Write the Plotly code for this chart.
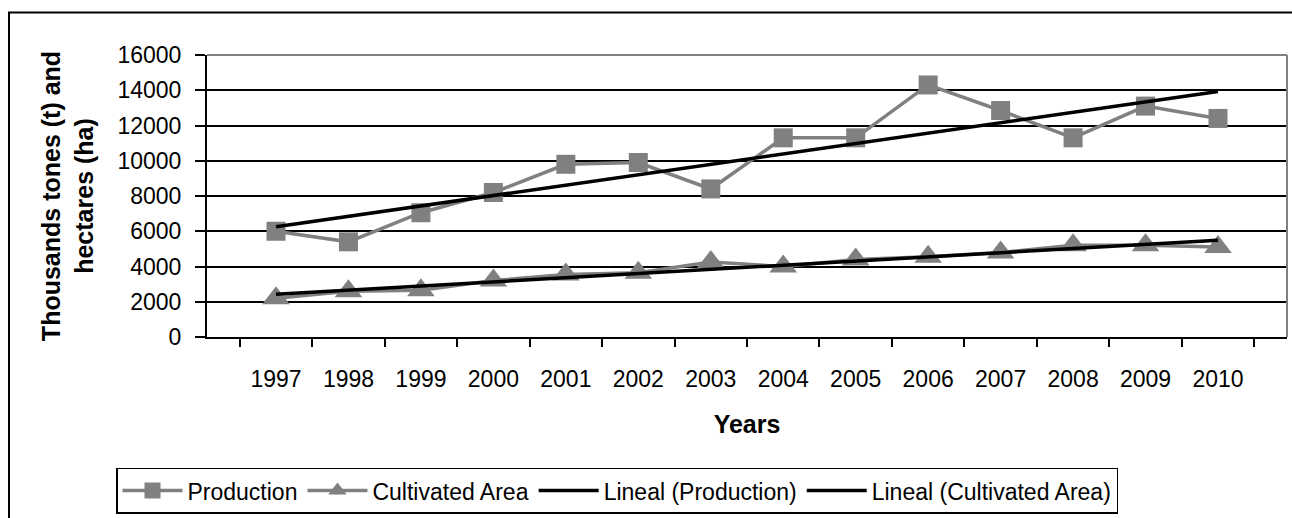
import numpy as np
import plotly.graph_objects as go

years = ["1997", "1998", "1999", "2000", "2001", "2002", "2003",
         "2004", "2005", "2006", "2007", "2008", "2009", "2010"]
production = [6000, 5400, 7050, 8200, 9800, 9900, 8400,
              11300, 11300, 14300, 12850, 11300, 13100, 12400]
cultivated_area = [2200, 2600, 2650, 3200, 3550, 3650, 4250,
                   4000, 4400, 4550, 4800, 5200, 5200, 5100]
y_ticks = [0, 2000, 4000, 6000, 8000, 10000, 12000, 14000, 16000]

# Linear trend lines (least squares on the series)
xi = np.arange(1, len(years) + 1)
p_fit = np.polyval(np.polyfit(xi, production, 1), xi)
a_fit = np.polyval(np.polyfit(xi, cultivated_area, 1), xi)

FONT = "Arial, Liberation Sans, sans-serif"
GRAY = "#808080"

fig = go.Figure()
fig.add_trace(go.Scatter(x=years, y=production, name="Production",
                         mode="lines+markers",
                         line=dict(color=GRAY, width=3.5),
                         marker=dict(symbol="square", size=19, color=GRAY)))
fig.add_trace(go.Scatter(x=years, y=cultivated_area, name="Cultivated Area",
                         mode="lines+markers",
                         line=dict(color=GRAY, width=3.5),
                         marker=dict(symbol="triangle-up", size=24, color=GRAY)))
fig.add_trace(go.Scatter(x=years, y=p_fit, name="Lineal (Production)",
                         mode="lines", line=dict(color="black", width=3.5)))
fig.add_trace(go.Scatter(x=years, y=a_fit, name="Lineal (Cultivated Area)",
                         mode="lines", line=dict(color="black", width=3.5)))

fig.update_layout(
    width=1292, height=518,
    margin=dict(l=207, r=5, t=55, b=178),
    paper_bgcolor="white", plot_bgcolor="white",
    font=dict(family=FONT, size=23, color="black"),
    showlegend=True,
    legend=dict(orientation="h", x=(116 - 207) / 1080, y=(340 - 472) / 285,
                xanchor="left", yanchor="top",
                bordercolor="black", borderwidth=1.5,
                font=dict(size=23, family=FONT, color="black"),
                itemwidth=60, tracegroupgap=0),
)
fig.update_xaxes(type="category", tickson="boundaries",
                 ticks="outside", ticklen=8, tickwidth=2, tickcolor="black",
                 showline=True, linecolor="black", linewidth=2,
                 showgrid=False, zeroline=False,
                 tickfont=dict(size=23, family=FONT, color="black"),
                 ticklabelstandoff=20,
                 title=dict(text="<b>Years</b>", standoff=25,
                            font=dict(size=25, family=FONT, color="black")))
fig.update_yaxes(range=[0, 16000], tickvals=y_ticks, tickformat="d",
                 ticks="outside", ticklen=10, tickwidth=2, tickcolor="black",
                 showline=True, linecolor="black", linewidth=2,
                 showgrid=True, gridcolor="black", gridwidth=2,
                 zeroline=False,
                 tickfont=dict(size=23, family=FONT, color="black"),
                 ticklabelstandoff=9,
                 title=dict(text="<b>Thousands tones (t) and<br>hectares (ha)</b>",
                            standoff=17,
                            font=dict(size=25, family=FONT, color="black")))

# plot-area border (gray top/right) and outer chart border
fig.add_shape(type="line", xref="paper", yref="paper", x0=0, x1=1, y0=1, y1=1,
              line=dict(color=GRAY, width=2))
fig.add_shape(type="line", xref="paper", yref="paper", x0=1, x1=1, y0=0, y1=1,
              line=dict(color=GRAY, width=2))
fig.add_shape(type="rect", xref="paper", yref="paper",
              x0=(9 - 207) / 1080, x1=1.1, y0=-0.7, y1=(340 - 12) / 285,
              line=dict(color="black", width=2), layer="below")

fig.write_html("out.html",
               config={"displayModeBar": False},
               post_script="document.body.style.margin='0';"
                           "document.body.style.overflow='hidden';")
